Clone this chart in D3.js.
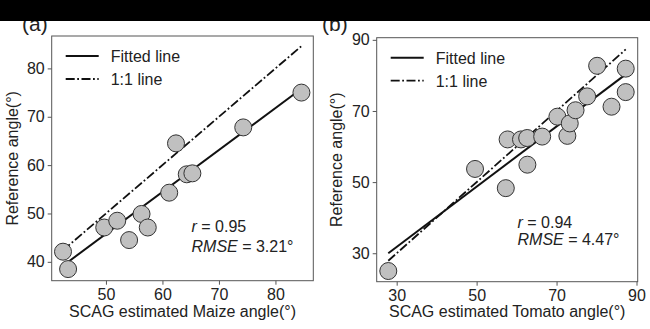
<!DOCTYPE html>
<meta charset="utf-8">
<style>
body { margin: 0; background: #fff; }
text { font-family: "Liberation Sans", Arial, sans-serif; fill: #222; }
.frame { fill: none; stroke: #555; stroke-width: 1px; }
.dot { fill: #c0c0c0; stroke: #333; stroke-width: 1px; }
</style>
<svg width="650" height="329"></svg>
<script src="https://cdn.jsdelivr.net/npm/d3@7/dist/d3.min.js"></script>
<script>

// maize panel (a)
var maizeX = [42.4, 43.3, 49.7, 52.0, 54.1, 56.3, 57.4, 61.2, 64.3, 65.3, 62.4, 74.3, 84.6]
var maizeY = [42.1, 38.5, 47.1, 48.5, 44.5, 49.9, 47.1, 54.3, 58.1, 58.3, 64.5, 67.8, 75.0]
var maizeFit = [[42.4, 39.2], [84.6, 75.8]]
var maizeXTicks = [50, 60, 70, 80]
var maizeYTicks = [40, 50, 60, 70, 80]

// tomato panel (b)
var tomatoX = [27.9, 49.6, 57.3, 62.7, 57.75, 61.1, 62.65, 66.4, 70.2, 72.7, 73.3, 74.75, 77.65, 80.15, 83.75, 87.3, 87.3]
var tomatoY = [25.0, 53.7, 48.3, 54.9, 62.0, 62.0, 62.4, 62.8, 68.4, 63.0, 66.5, 70.2, 74.1, 82.7, 71.2, 81.9, 75.3]
var tomatoFit = [[27.9, 30.0], [87.3, 80.3]]
var tomatoXTicks = [30, 50, 70, 90]
var tomatoYTicks = [30, 50, 70, 90]

var svg = d3.select("svg")

svg.append("rect").attr("width", 650).attr("height", 329).attr("fill", "#fff")

function panel(o) {
  var x = d3.scaleLinear().domain(o.xdom).range([o.left, o.right])
  var y = d3.scaleLinear().domain(o.ydom).range([o.bottom, o.top])
  var g = svg.append("g")

  var xa = g.append("g")
      .attr("transform", "translate(0," + o.bottom + ")")
      .call(d3.axisBottom(x).tickValues(o.xticks).tickSize(4).tickPadding(4))
  var ya = g.append("g")
      .attr("transform", "translate(" + o.left + ",0)")
      .call(d3.axisLeft(y).tickValues(o.yticks).tickSize(4).tickPadding(3))
  ;[xa, ya].forEach(function(a) {
    a.select(".domain").remove()
    a.selectAll("line").attr("stroke", "#555")
    a.selectAll("text").style("font-size", "16px").attr("fill", "#222")
  })

  g.append("rect").attr("class", "frame")
    .attr("x", o.left).attr("y", o.top)
    .attr("width", o.right - o.left).attr("height", o.bottom - o.top)

  // 1:1 line
  var x0 = o.fit[0][0], x1 = o.fit[1][0]
  g.append("line")
    .attr("x1", x(x0)).attr("y1", y(x0))
    .attr("x2", x(x1)).attr("y2", y(x1))
    .attr("stroke", "#111").attr("stroke-width", 1.8)
    .attr("stroke-dasharray", "9,2.5,1.8,2.5")

  // fitted line
  g.append("line")
    .attr("x1", x(o.fit[0][0])).attr("y1", y(o.fit[0][1]))
    .attr("x2", x(o.fit[1][0])).attr("y2", y(o.fit[1][1]))
    .attr("stroke", "#111").attr("stroke-width", 2)

  g.selectAll(".dot")
    .data(o.xs.map(function(d, i) { return [d, o.ys[i]] }))
    .enter().append("circle")
      .attr("class", "dot")
      .attr("cx", function(d) { return x(d[0]) })
      .attr("cy", function(d) { return y(d[1]) })
      .attr("r", 8.5)

  // legend
  var lx = o.left + 14, ly = o.top + 20
  g.append("line").attr("x1", lx).attr("x2", lx + 33).attr("y1", ly).attr("y2", ly)
    .attr("stroke", "#111").attr("stroke-width", 2)
  g.append("line").attr("x1", lx).attr("x2", lx + 33).attr("y1", ly + 23).attr("y2", ly + 23)
    .attr("stroke", "#111").attr("stroke-width", 1.8)
    .attr("stroke-dasharray", "9,2.5,1.8,2.5")
  g.append("text").attr("x", lx + 45).attr("y", ly + 6).style("font-size", "16px").text("Fitted line")
  g.append("text").attr("x", lx + 45).attr("y", ly + 29).style("font-size", "16px").text("1:1 line")

  // stats
  var t1 = g.append("text").attr("x", o.statX).attr("y", o.statY).style("font-size", "16px")
  t1.append("tspan").style("font-style", "italic").text("r")
  t1.append("tspan").text(" = " + o.r)
  var t2 = g.append("text").attr("x", o.statX).attr("y", o.statY + o.statGap).style("font-size", "16px")
  t2.append("tspan").style("font-style", "italic").text("RMSE")
  t2.append("tspan").text(" = " + o.rmse + "°")

  // axis titles
  g.append("text")
    .attr("x", (o.left + o.right) / 2).attr("y", 316.5)
    .attr("text-anchor", "middle").style("font-size", "16px")
    .text(o.xlabel)
  g.append("text")
    .attr("transform", "translate(" + o.ylabX + "," + ((o.top + o.bottom) / 2) + ") rotate(-90)")
    .attr("text-anchor", "middle").style("font-size", "16px")
    .text("Reference angle(°)")

  g.append("text").attr("x", o.tagX).attr("y", 31).style("font-size", "21px").text(o.tag)
}

panel({
  xs: maizeX, ys: maizeY, fit: maizeFit,
  xdom: [40.4, 86.7], ydom: [36.1, 86.7],
  left: 51.7, right: 313.3, top: 36, bottom: 280.7,
  xticks: maizeXTicks, yticks: maizeYTicks,
  xlabel: "SCAG estimated Maize angle(°)",
  r: "0.95", rmse: "3.21", statX: 191.5, statY: 232, statGap: 19.5,
  ylabX: 18, tag: "(a)", tagX: 22
})

panel({
  xs: tomatoX, ys: tomatoY, fit: tomatoFit,
  xdom: [25.0, 90.3], ydom: [22.0, 90.6],
  left: 376.7, right: 637.7, top: 37.7, bottom: 281.7,
  xticks: tomatoXTicks, yticks: tomatoYTicks,
  xlabel: "SCAG estimated Tomato angle(°)",
  r: "0.94", rmse: "4.47", statX: 517.5, statY: 228, statGap: 17,
  ylabX: 342, tag: "(b)", tagX: 322
})

// dark band on top
svg.append("rect").attr("x", 0).attr("y", 0).attr("width", 650).attr("height", 21).attr("fill", "#000")

</script>
